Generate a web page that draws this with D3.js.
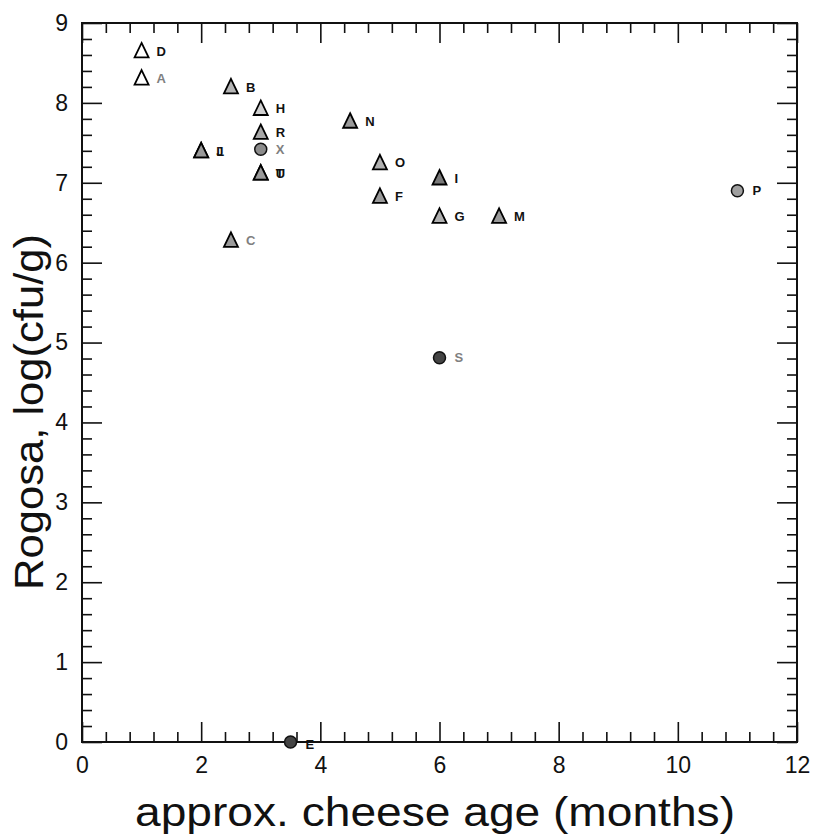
<!DOCTYPE html>
<html>
<head>
<meta charset="utf-8">
<script src="https://cdn.jsdelivr.net/npm/d3@7"></script>
<style>
  html, body { margin: 0; padding: 0; background: #fff; }
  svg { display: block; }
</style>
</head>
<body>
<svg id="chart" width="813" height="838"></svg>
<script>
// Cheese samples: label, approx. age (months), Rogosa count log(cfu/g), marker shape
const sampleLabels = ["D", "A", "B", "H", "R", "X", "J", "L", "T", "U", "C", "N", "O", "F", "I", "G", "M", "S", "E", "P"];
const ageMonths    = [1, 1, 2.5, 3, 3, 3, 2, 2, 3, 3, 2.5, 4.5, 5, 5, 6, 6, 7, 6, 3.5, 11];
const rogosaLog    = [8.65, 8.31, 8.2, 7.93, 7.63, 7.42, 7.4, 7.4, 7.12, 7.12, 6.28, 7.77, 7.25, 6.83, 7.06, 6.58, 6.58, 4.81, 0, 6.9];
const markerShape  = ["tri", "tri", "tri", "tri", "tri", "dot", "tri", "tri", "tri", "tri", "tri", "tri", "tri", "tri", "tri", "tri", "tri", "dot", "dot", "dot"];

const xMajorTicks = [0, 2, 4, 6, 8, 10, 12];
const yMajorTicks = [0, 1, 2, 3, 4, 5, 6, 7, 8, 9];

const xTitle = "approx. cheese age (months)";
const yTitle = "Rogosa, log(cfu/g)";

// ---- drawing ----
const svg = d3.select("#chart");
const plot = { left: 82, right: 797, top: 23, bottom: 742 };

const x = d3.scaleLinear().domain([0, 12]).range([plot.left, plot.right]);
const y = d3.scaleLinear().domain([0, 9]).range([plot.bottom, plot.top]);

const xMinor = d3.range(0, 12.001, 0.4).filter(v => Math.abs(v / 2 - Math.round(v / 2)) > 1e-6);
const yMinor = d3.range(0, 9.001, 0.2).filter(v => Math.abs(v - Math.round(v)) > 1e-6);

const tickFont = "23px 'Liberation Sans', Arial, sans-serif";

function styleAxis(g) {
  g.select(".domain").remove();
  g.selectAll(".tick line").attr("stroke", "#111").attr("stroke-width", 1.6);
  g.selectAll(".tick text").attr("fill", "#111").style("font", tickFont);
}

// bottom axis with labels, plus minor ticks
svg.append("g").attr("transform", `translate(0,${plot.bottom})`)
  .call(d3.axisBottom(x).tickValues(xMajorTicks).tickSize(-20).tickPadding(15).tickFormat(d3.format("d")))
  .call(styleAxis);
svg.append("g").attr("transform", `translate(0,${plot.bottom})`)
  .call(d3.axisBottom(x).tickValues(xMinor).tickSize(-10).tickFormat(""))
  .call(styleAxis);
// top axis (ticks only)
svg.append("g").attr("transform", `translate(0,${plot.top})`)
  .call(d3.axisTop(x).tickValues(xMajorTicks).tickSize(-20).tickFormat(""))
  .call(styleAxis);
svg.append("g").attr("transform", `translate(0,${plot.top})`)
  .call(d3.axisTop(x).tickValues(xMinor).tickSize(-10).tickFormat(""))
  .call(styleAxis);
// left axis with labels, plus minor ticks
svg.append("g").attr("transform", `translate(${plot.left},0)`)
  .call(d3.axisLeft(y).tickValues(yMajorTicks).tickSize(-20).tickPadding(14).tickFormat(d3.format("d")))
  .call(styleAxis);
svg.append("g").attr("transform", `translate(${plot.left},0)`)
  .call(d3.axisLeft(y).tickValues(yMinor).tickSize(-10).tickFormat(""))
  .call(styleAxis);
// right axis (ticks only)
svg.append("g").attr("transform", `translate(${plot.right},0)`)
  .call(d3.axisRight(y).tickValues(yMajorTicks).tickSize(-20).tickFormat(""))
  .call(styleAxis);
svg.append("g").attr("transform", `translate(${plot.right},0)`)
  .call(d3.axisRight(y).tickValues(yMinor).tickSize(-10).tickFormat(""))
  .call(styleAxis);

// frame
svg.append("rect")
  .attr("x", plot.left).attr("y", plot.top)
  .attr("width", plot.right - plot.left).attr("height", plot.bottom - plot.top)
  .attr("fill", "none").attr("stroke", "#111").attr("stroke-width", 2);

// axis titles
svg.append("text")
  .attr("x", 135).attr("y", 826)
  .attr("textLength", 600).attr("lengthAdjust", "spacingAndGlyphs")
  .attr("fill", "#111")
  .style("font", "40px 'Liberation Sans', Arial, sans-serif")
  .text(xTitle);

svg.append("text")
  .attr("transform", "translate(43,590) rotate(-90)")
  .attr("textLength", 356).attr("lengthAdjust", "spacingAndGlyphs")
  .attr("fill", "#111")
  .style("font", "40px 'Liberation Sans', Arial, sans-serif")
  .text(yTitle);

// points
const samples = sampleLabels.map((label, i) => ({
  label, age: ageMonths[i], value: rogosaLog[i], shape: markerShape[i]
}));

const markerFill = { D: "#ffffff", A: "#ffffff", B: "#b4b4b4", H: "#cfcfcf", R: "#a8a8a8",
  X: "#8c8c8c", I: "#7a7a7a", G: "#b0b0b0", O: "#b0b0b0", S: "#444444", E: "#444444", P: "#a0a0a0" };
const grayLabels = new Set(["A", "X", "C", "S"]);

const triangle = "M0,-8 L7,6.5 L-7,6.5 Z";

const pts = svg.append("g");
samples.forEach(d => {
  const cx = x(d.age), cy = y(d.value);
  const fill = markerFill[d.label] || "#9a9a9a";
  if (d.shape === "tri") {
    pts.append("path")
      .attr("d", triangle)
      .attr("transform", `translate(${cx},${cy})`)
      .attr("fill", fill).attr("stroke", "#000").attr("stroke-width", 1.8)
      .attr("stroke-linejoin", "miter");
  } else {
    pts.append("circle")
      .attr("cx", cx).attr("cy", cy).attr("r", 6)
      .attr("fill", fill).attr("stroke", "#111").attr("stroke-width", 1.5);
  }
  pts.append("text")
    .attr("x", cx + 15).attr("y", cy + (d.value === 0 ? 2 : 0))
    .attr("dy", "0.36em")
    .attr("fill", grayLabels.has(d.label) ? "#808080" : "#111")
    .style("font", "bold 13px 'Liberation Sans', Arial, sans-serif")
    .text(d.label);
});
</script>
</body>
</html>
